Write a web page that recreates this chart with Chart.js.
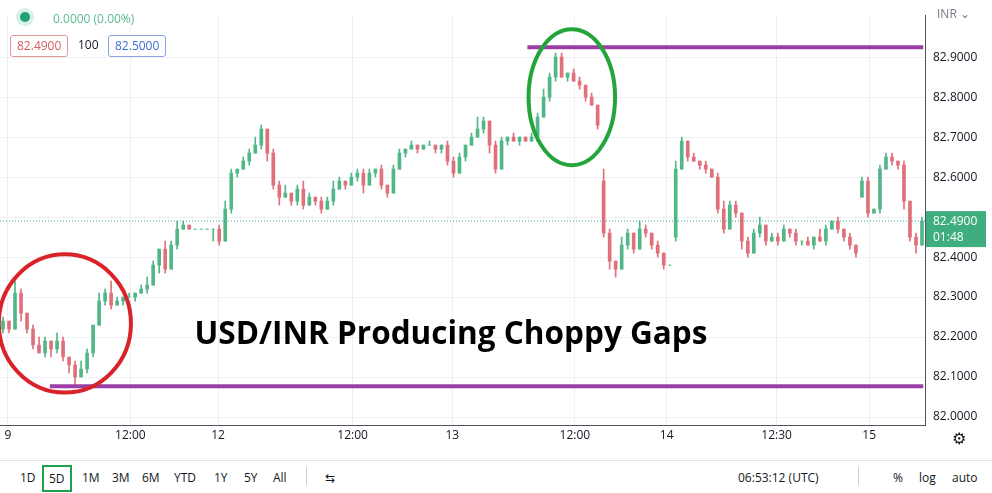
<!DOCTYPE html>
<html>
<head>
<meta charset="utf-8">
<script src="https://cdn.jsdelivr.net/npm/chart.js@4.4.1/dist/chart.umd.min.js"></script>
<style>
  body { margin: 0; background: #fff; font-family: "Open Sans", "Noto Sans", sans-serif; }
  #wrap { position: relative; width: 992px; height: 493px; overflow: hidden; }
  #chart-box { position: absolute; left: 0; top: 0; width: 992px; height: 460px; }
  .legend { position: absolute; left: 0; top: 0; font-size: 12px; }
  .dot { position: absolute; left: 20px; top: 12px; width: 10px; height: 10px; border-radius: 50%; background: #1f9e77; box-shadow: 0 0 0 4px #d6f1e8; }
  .chg { position: absolute; left: 53px; top: 10px; color: #5dbb93; white-space: nowrap; }
  .box { position: absolute; top: 35px; height: 20px; line-height: 20px; padding: 0 6px; border-radius: 3px; font-size: 12px; background: #fff; }
  .toolbar { position: absolute; left: 0; top: 460px; width: 992px; height: 33px; font-size: 12px; color: #131722; border-top: 1px solid #e0e3eb; }
  .toolbar span { position: absolute; top: 8px; }
</style>
</head>
<body>
<div id="wrap">
  <div id="chart-box"><canvas id="c" width="992" height="460"></canvas></div>
  <div class="legend">
    <div class="dot"></div>
    <div class="chg">0.0000 (0.00%)</div>
    <div class="box" style="left:10px;color:#d65b5b;border:1px solid #e09a9a;">82.4900</div>
    <div class="box" style="left:78px;padding:0;color:#131722;background:none;">100</div>
    <div class="box" style="left:108px;color:#3d6bd1;border:1px solid #8aa6e6;">82.5000</div>
  </div>
  <div class="toolbar">
    <span style="left:20px">1D</span>
    <span style="left:42px;top:4px;padding:3px 5px;border:2px solid #1fa34a;">5D</span>
    <span style="left:82px">1M</span>
    <span style="left:112px">3M</span>
    <span style="left:142px">6M</span>
    <span style="left:174px">YTD</span>
    <span style="left:214px">1Y</span>
    <span style="left:244px">5Y</span>
    <span style="left:273px">All</span>
    <span style="left:306px;top:6px;height:18px;border-left:1px solid #c8ccd6;"></span>
    <span style="left:325px">⇆</span>
    <span style="left:738px">06:53:12 (UTC)</span>
    <span style="left:858px;top:6px;height:18px;border-left:1px solid #c8ccd6;"></span>
    <span style="left:893px">%</span>
    <span style="left:919px">log</span>
    <span style="left:952px">auto</span>
  </div>
</div>
<script>
// closing prices, one candle per slot
const closes = [
  82.24, 82.22, 82.31, 82.26, 82.22, 82.18, 82.16, 82.19, 82.17, 82.19,
  82.15, 82.13, 82.10, 82.12, 82.16, 82.23, 82.29, 82.31, 82.28, 82.29,
  82.30, 82.30, 82.31, 82.32, 82.33, 82.38, 82.42, 82.37, 82.43, 82.47,
  82.48, 82.47, 82.47, 82.47, 82.47, 82.47, 82.44, 82.52, 82.61, 82.62,
  82.64, 82.66, 82.68, 82.72, 82.66, 82.58, 82.55, 82.56, 82.54, 82.57,
  82.53, 82.55, 82.54, 82.52, 82.54, 82.57, 82.59, 82.58, 82.60, 82.61,
  82.58, 82.61, 82.62, 82.58, 82.56, 82.62, 82.66, 82.67, 82.68, 82.67,
  82.68, 82.68, 82.67, 82.68, 82.64, 82.61, 82.65, 82.68, 82.70, 82.72,
  82.74, 82.68, 82.62, 82.69, 82.70, 82.69, 82.70, 82.69, 82.70, 82.75,
  82.80, 82.85, 82.90, 82.85, 82.86, 82.84, 82.83, 82.80, 82.78, 82.73,
  82.46, 82.39, 82.37, 82.43, 82.46, 82.42, 82.47, 82.46, 82.43, 82.41,
  82.38, 82.38, 82.62, 82.69, 82.65, 82.64, 82.63, 82.62, 82.60, 82.52,
  82.47, 82.53, 82.51, 82.44, 82.41, 82.46, 82.48, 82.44, 82.45, 82.44,
  82.47, 82.46, 82.44, 82.44, 82.43, 82.45, 82.44, 82.47, 82.49, 82.47,
  82.45, 82.43, 82.41, 82.59, 82.51, 82.52, 82.62, 82.65, 82.64, 82.63,
  82.54, 82.45, 82.43, 82.49
];
// opening prices after session gaps (slot -> price)
const gapOpens = { 0: 82.22, 100: 82.59, 112: 82.45, 143: 82.55 };
// wick lengths above / below the body, in hundredths
const wickUp = [
  1,0,3,1,0,1,2,1,0,2, 1,0,1,2,1,0,2,1,3,1, 0,1,0,1,2,1,0,2,1,2,
  1,0,0,0,0,0,1,2,1,0, 1,1,2,1,0,1,1,2,0,1, 2,1,0,1,1,2,1,0,1,1,
  1,1,0,1,0,1,1,0,1,0, 0,1,0,0,1,1,1,0,1,3, 1,0,1,1,0,1,0,0,1,1,
  2,1,1,1,0,1,1,0,1,0, 3,1,0,2,1,0,2,1,0,1, 0,0,2,1,0,1,0,1,0,1,
  2,1,1,0,1,1,2,0,1,1, 1,0,1,0,1,0,2,1,0,1, 0,1,0,1,1,0,1,1,1,0,
  1,0,1,1
];
const wickDn = [
  1,1,0,2,1,1,0,1,2,1, 1,2,2,0,1,1,0,1,1,0, 1,0,1,0,1,0,2,1,0,1,
  0,0,0,0,0,3,1,0,1,1, 0,1,0,1,2,1,2,0,1,1, 1,0,1,1,0,1,0,1,0,1,
  2,0,1,1,1,0,0,1,0,1, 0,0,1,1,1,1,0,1,0,0, 1,2,1,0,1,0,1,0,0,1,
  0,1,1,0,1,0,1,1,0,1, 1,2,2,0,1,1,0,1,1,1, 1,0,1,0,1,0,1,1,0,1,
  1,0,1,2,1,0,1,1,0,1, 0,1,1,1,0,1,0,1,0,1, 1,1,1,0,1,0,1,0,1,1,
  2,1,2,0
];
const priceTicks = [82.0, 82.1, 82.2, 82.3, 82.4, 82.5, 82.6, 82.7, 82.8, 82.9];
const timeSlots = [0.8, 21.2, 35.8, 58.2, 74.8, 95.2, 110.5, 128.8, 144.2];
const timeLabels = ['9', '12:00', '12', '12:00', '13', '12:00', '14', '12:30', '15'];
const lastPrice = 82.49;
const supportLevel = 82.077, resistLevel = 82.925;

const UP = '#52b788', DOWN = '#e0707a';

const opens = closes.map((c, i) => gapOpens[i] !== undefined ? gapOpens[i] : closes[i - 1]);
const bodies = closes.map((c, i) => ({ x: i, y: [opens[i], c] }));
const wicks = closes.map((c, i) => ({
  x: i,
  y: [Math.min(opens[i], c) - wickDn[i] / 100, Math.max(opens[i], c) + wickUp[i] / 100]
}));
const candleColor = ctx => closes[ctx.dataIndex] >= opens[ctx.dataIndex] ? UP : DOWN;

const overlayPlugin = {
  id: 'overlay',
  afterDatasetsDraw(chart) {
    const { ctx, scales: { x, y }, chartArea } = chart;
    ctx.save();
    // last price dotted line
    ctx.strokeStyle = '#3aa88a';
    ctx.setLineDash([1, 2]);
    ctx.lineWidth = 1;
    ctx.beginPath();
    ctx.moveTo(chartArea.left, y.getPixelForValue(lastPrice));
    ctx.lineTo(chartArea.right, y.getPixelForValue(lastPrice));
    ctx.stroke();
    ctx.setLineDash([]);
    // horizontal levels
    ctx.strokeStyle = '#9b3fa6';
    ctx.lineWidth = 4;
    [[87.3, resistLevel], [7.8, supportLevel]].forEach(([from, lvl]) => {
      ctx.beginPath();
      ctx.moveTo(x.getPixelForValue(from), y.getPixelForValue(lvl));
      ctx.lineTo(x.getPixelForValue(153.2), y.getPixelForValue(lvl));
      ctx.stroke();
    });
    // circled areas
    const ring = (cx, cy, rx, ry, col) => {
      const px = x.getPixelForValue(cx), py = y.getPixelForValue(cy);
      ctx.strokeStyle = col;
      ctx.lineWidth = 4;
      ctx.beginPath();
      ctx.ellipse(px, py, x.getPixelForValue(cx + rx) - px, py - y.getPixelForValue(cy + ry), 0, 0, Math.PI * 2);
      ctx.stroke();
    };
    ring(10.3, 82.234, 11.0, 0.173, '#d9232a');
    ring(94.7, 82.80, 7.2, 0.17, '#23a53c');
    // headline
    ctx.fillStyle = '#000';
    ctx.font = 'bold 31.5px "Open Sans", sans-serif';
    ctx.textAlign = 'center';
    ctx.textBaseline = 'middle';
    ctx.fillText('USD/INR Producing Choppy Gaps', 451, 335);
    // price tag on axis
    const ty = y.getPixelForValue(lastPrice);
    ctx.fillStyle = '#3fae7e';
    ctx.fillRect(chartArea.right + 1, ty - 10, 60, 36);
    ctx.fillStyle = '#fff';
    ctx.font = '12px "Open Sans", sans-serif';
    ctx.textAlign = 'left';
    ctx.fillText('82.4900', chartArea.right + 8, ty);
    ctx.fillText('01:48', chartArea.right + 8, ty + 16);
    // axis corner texts
    ctx.fillStyle = '#787b86';
    ctx.fillText('INR ⌄', chartArea.right + 12, 15);
    ctx.fillStyle = '#131722';
    ctx.font = '16px "DejaVu Sans", sans-serif';
    ctx.fillText('⚙', chartArea.right + 27, chartArea.bottom + 15);
    ctx.restore();
  }
};

new Chart(document.getElementById('c'), {
  type: 'bar',
  data: {
    datasets: [
      { data: wicks, backgroundColor: candleColor, barThickness: 1, grouped: false },
      { data: bodies, backgroundColor: candleColor, barThickness: 3, grouped: false }
    ]
  },
  options: {
    responsive: false,
    animation: false,
    layout: { padding: 0 },
    plugins: { legend: { display: false }, tooltip: { enabled: false } },
    scales: {
      x: {
        type: 'linear',
        offset: false,
        min: -0.5,
        max: 153.5,
        afterBuildTicks: s => { s.ticks = timeSlots.map(v => ({ value: v })); },
        afterFit: s => { s.height = 35; },
        ticks: {
          color: '#131722',
          font: { size: 12, family: '"Open Sans", sans-serif' },
          maxRotation: 0,
          autoSkip: false,
          callback: (v, i) => timeLabels[i]
        },
        grid: { color: '#eef0f5', drawTicks: false, offset: false },
        border: { color: '#50535e' }
      },
      y: {
        position: 'right',
        min: 81.98,
        max: 83.005,
        afterBuildTicks: s => { s.ticks = priceTicks.map(v => ({ value: v })); },
        afterFit: s => { s.width = 67; },
        ticks: {
          color: '#131722',
          font: { size: 12, family: '"Open Sans", sans-serif' },
          padding: 8,
          callback: v => v.toFixed(4)
        },
        grid: { color: '#eef0f5', drawTicks: false },
        border: { color: '#50535e' }
      }
    }
  },
  plugins: [overlayPlugin]
});
</script>
</body>
</html>
